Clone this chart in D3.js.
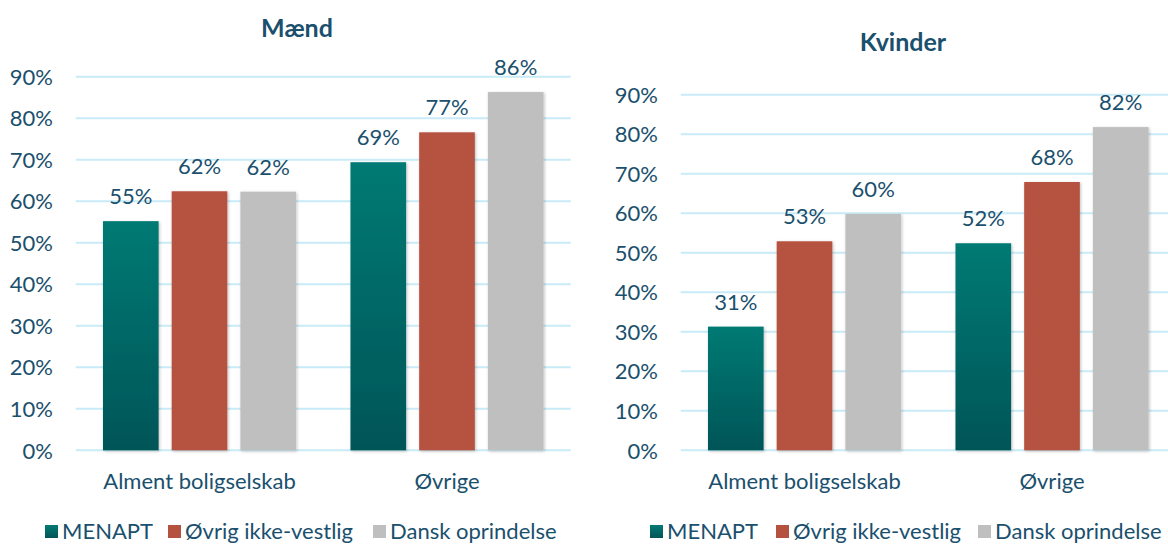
<!DOCTYPE html>
<html><head><meta charset="utf-8">
<script src="https://cdn.jsdelivr.net/npm/d3@7"></script>
<style>
html,body{margin:0;padding:0;background:#fff;overflow:hidden;}
svg{display:block;}
text{font-family:Lato, "Open Sans", sans-serif;}
</style></head>
<body>
<svg id="chart" width="1168" height="545"></svg>
<script>
// ---- data ----
const categories = ["Alment boligselskab", "Øvrige"];
const seriesNames = ["MENAPT", "Øvrig ikke-vestlig", "Dansk oprindelse"];
const maendMENAPT = [0.552, 0.694];
const maendOvrig = [0.624, 0.766];
const maendDansk = [0.623, 0.863];
const kvinderMENAPT = [0.313, 0.524];
const kvinderOvrig = [0.529, 0.679];
const kvinderDansk = [0.598, 0.818];
const yTicks = [0, 0.1, 0.2, 0.3, 0.4, 0.5, 0.6, 0.7, 0.8, 0.9];
const titles = ["Mænd", "Kvinder"];

const textColor = "#1a506d";
const gridColor = "#c9ebf7";
const colors = ["url(#tealGrad)", "#b5523f", "#bfbfbf"];
const legendColors = ["url(#tealGradL)", "#b5523f", "#bfbfbf"];

const svg = d3.select("#chart");
const defs = svg.append("defs");
const grad = defs.append("linearGradient").attr("id", "tealGrad")
  .attr("x1", 0).attr("y1", 0).attr("x2", 0).attr("y2", 1);
grad.append("stop").attr("offset", "0%").attr("stop-color", "#057a74");
grad.append("stop").attr("offset", "100%").attr("stop-color", "#045557");
const lgrad = defs.append("linearGradient").attr("id", "tealGradL")
  .attr("x1", 0).attr("y1", 0).attr("x2", 0).attr("y2", 1);
lgrad.append("stop").attr("offset", "0%").attr("stop-color", "#057a74");
lgrad.append("stop").attr("offset", "100%").attr("stop-color", "#045557");
const shadow = defs.append("filter").attr("id", "shadow")
  .attr("x", "-20%").attr("y", "-5%").attr("width", "140%").attr("height", "110%");
shadow.append("feDropShadow").attr("dx", 1).attr("dy", 1).attr("stdDeviation", 1.5)
  .attr("flood-color", "#000").attr("flood-opacity", 0.25);

const fmt = d3.format(".0%");

function drawChart(cfg) {
  const g = svg.append("g");
  const data = [cfg.s0, cfg.s1, cfg.s2];
  const y = d3.scaleLinear().domain([0, 0.9]).range([cfg.y0, cfg.y90]);
  const x0 = d3.scaleBand().domain(categories).range([cfg.xl, cfg.xr]).padding(0);
  const x1 = d3.scaleBand().domain(seriesNames)
    .range([x0.bandwidth() * 0.11, x0.bandwidth() * 0.89]).paddingInner(0.19).paddingOuter(0);

  // gridlines
  g.append("g").selectAll("line").data(yTicks).join("line")
    .attr("x1", cfg.xl).attr("x2", cfg.xr)
    .attr("y1", d => y(d)).attr("y2", d => y(d))
    .attr("stroke", gridColor).attr("stroke-width", 2);

  // y axis labels
  const yAxis = d3.axisLeft(y).tickValues(yTicks).tickFormat(fmt).tickSize(0).tickPadding(0);
  const ya = g.append("g").attr("transform", `translate(${cfg.yLabelX},0)`).call(yAxis);
  ya.select(".domain").remove();
  ya.selectAll("text").attr("fill", textColor).style("font-size", cfg.fs + "px")
    .style("font-family", "Lato, sans-serif").attr("dy", "0.35em");

  // bars
  const groups = g.append("g").selectAll("g").data(categories).join("g")
    .attr("transform", d => `translate(${x0(d)},0)`);
  groups.selectAll("rect").data((c, ci) => seriesNames.map((s, si) => ({s, si, v: data[si][ci]})))
    .join("rect")
    .attr("x", d => x1(d.s)).attr("width", x1.bandwidth())
    .attr("y", d => y(d.v)).attr("height", d => y(0) - y(d.v))
    .attr("fill", d => colors[d.si]).attr("filter", "url(#shadow)");
  groups.selectAll("text.val").data((c, ci) => seriesNames.map((s, si) => ({s, si, v: data[si][ci]})))
    .join("text").attr("class", "val")
    .attr("x", d => x1(d.s) + x1.bandwidth() / 2).attr("y", d => y(d.v) - 17)
    .attr("text-anchor", "middle").attr("fill", textColor).style("font-size", cfg.fs + "px")
    .text(d => fmt(d.v));

  // x axis labels
  const xAxis = d3.axisBottom(x0).tickSize(0).tickPadding(0);
  const xa = g.append("g").attr("transform", `translate(0,${cfg.xLabelY})`).call(xAxis);
  xa.select(".domain").remove();
  xa.selectAll("text").attr("fill", textColor).style("font-size", cfg.fs + "px")
    .style("font-family", "Lato, sans-serif").attr("dy", "0.35em");

  // title
  g.append("text").attr("x", cfg.titleX).attr("y", cfg.titleY).attr("text-anchor", "middle")
    .attr("dy", "0.35em").attr("fill", textColor).style("font-size", cfg.titleFs + "px")
    .style("font-weight", "bold").text(cfg.title);

  // legend
  const leg = g.append("g").selectAll("g").data(seriesNames).join("g")
    .attr("transform", (d, i) => `translate(${cfg.legX[i]},${cfg.legY})`);
  leg.append("rect").attr("x", 0).attr("y", -6).attr("width", 13).attr("height", 13)
    .attr("fill", (d, i) => legendColors[i]);
  leg.append("text").attr("x", 17).attr("y", 0).attr("dy", "0.35em")
    .attr("fill", textColor).style("font-size", cfg.fs + "px").text(d => d);
}

drawChart({
  s0: maendMENAPT, s1: maendOvrig, s2: maendDansk, title: titles[0],
  y0: 450.3, y90: 76.7, xl: 75.75, xr: 570.75, yLabelX: 53, xLabelY: 481,
  titleX: 297, titleY: 28, fs: 22, titleFs: 25,
  legX: [45, 168, 373], legY: 531
});
drawChart({
  s0: kvinderMENAPT, s1: kvinderOvrig, s2: kvinderDansk, title: titles[1],
  y0: 450.3, y90: 94.7, xl: 680.75, xr: 1175.75, yLabelX: 658, xLabelY: 481,
  titleX: 903, titleY: 42, fs: 22, titleFs: 25,
  legX: [650, 776, 978], legY: 531
});
</script>
</body></html>
